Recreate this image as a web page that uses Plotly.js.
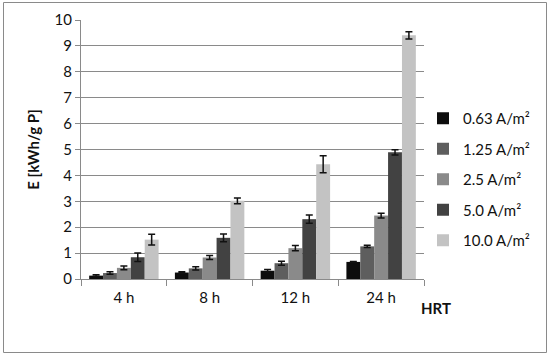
<!DOCTYPE html>
<html>
<head>
<meta charset="utf-8">
<script src="https://cdn.plot.ly/plotly-3.0.1.min.js"></script>
<style>
  body { margin: 0; background: #fff; }
  #myDiv { width: 550px; height: 357px; }
</style>
</head>
<body>
<div id="myDiv"></div>
<script>
let tiempos = ["4 h", "8 h", "12 h", "24 h"];
let series = ["0.63 A/m²", "1.25 A/m²", "2.5 A/m²", "5.0 A/m²", "10.0 A/m²"];
let colores = ["#0d0d0d", "#5e5e5e", "#8a8a8a", "#424242", "#c3c3c3"];

let e063 = [0.13, 0.25, 0.32, 0.66];
let e125 = [0.23, 0.41, 0.61, 1.26];
let e25 = [0.43, 0.83, 1.19, 2.45];
let e50 = [0.84, 1.59, 2.31, 4.89];
let e100 = [1.52, 3.02, 4.43, 9.41];

let err063 = [0.03, 0.03, 0.05, 0.02];
let err125 = [0.05, 0.06, 0.08, 0.04];
let err25 = [0.07, 0.08, 0.1, 0.09];
let err50 = [0.16, 0.15, 0.16, 0.1];
let err100 = [0.21, 0.11, 0.33, 0.14];

let valores = [e063, e125, e25, e50, e100];
let errores = [err063, err125, err25, err50, err100];

var fuente = 'Lato, "Open Sans", sans-serif';

var data = series.map((nombre, i) => ({
    x: tiempos,
    y: valores[i],
    name: nombre,
    type: 'bar',
    legendgroup: 'g' + i,
    marker: { color: colores[i] },
    error_y: {
        type: 'data',
        array: errores[i],
        visible: true,
        color: '#111',
        thickness: 1.5,
        width: 3.5
    }
}));

var ml = 81, mr = 126, mt = 20, mb = 78;
var pw = 550 - ml - mr, ph = 357 - mt - mb;

var layout = {
    width: 550,
    height: 357,
    margin: { l: ml, r: mr, t: mt, b: mb },
    barmode: 'group',
    bargap: 0.19,
    bargroupgap: 0,
    showlegend: true,
    font: { family: fuente, size: 15, color: '#111' },
    legend: {
        x: (423 - ml) / pw,
        y: (357 - 102 - mb) / ph,
        xanchor: 'left',
        yanchor: 'top',
        tracegroupgap: 8,
        font: { family: fuente, size: 15, color: '#111' },
        bgcolor: 'rgba(0,0,0,0)'
    },
    xaxis: {
        type: 'category',
        showline: true,
        linecolor: '#8a8a8a',
        linewidth: 1,
        ticks: 'outside',
        tickson: 'boundaries',
        ticklen: 6,
        tickcolor: '#8a8a8a',
        ticklabelstandoff: 5,
        showgrid: false,
        tickfont: { family: fuente, size: 15, color: '#111' }
    },
    yaxis: {
        range: [0, 10],
        dtick: 1,
        showline: true,
        linecolor: '#8a8a8a',
        linewidth: 1,
        ticks: 'outside',
        ticklen: 5,
        tickcolor: '#8a8a8a',
        showgrid: true,
        gridcolor: '#8a8a8a',
        gridwidth: 1,
        zeroline: false,
        tickfont: { family: fuente, size: 15, color: '#111' },
        title: {
            text: '<b>E [kWh/g P]</b>',
            font: { family: fuente, size: 15, color: '#111' },
            standoff: 11
        }
    },
    annotations: [{
        text: '<b>HRT</b>',
        xref: 'paper', yref: 'paper',
        x: (436 - ml) / pw,
        y: (357 - 308 - mb) / ph,
        xanchor: 'center', yanchor: 'middle',
        showarrow: false,
        font: { family: fuente, size: 15, color: '#111' }
    }],
    shapes: [{
        type: 'rect',
        xref: 'paper', yref: 'paper',
        x0: (3.5 - ml) / pw, x1: (546.5 - ml) / pw,
        y0: (357 - 352.5 - mb) / ph, y1: (357 - 2.5 - mb) / ph,
        line: { color: '#8a8a8a', width: 1 },
        layer: 'below'
    }],
    plot_bgcolor: '#fff',
    paper_bgcolor: '#fff'
};

Plotly.newPlot('myDiv', data, layout, { displayModeBar: false, staticPlot: true });
</script>
</body>
</html>
